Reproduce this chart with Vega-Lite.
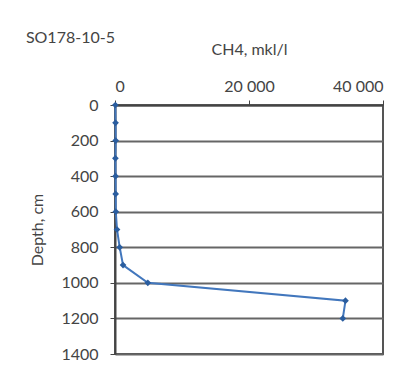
{
  "$schema": "https://vega.github.io/schema/vega-lite/v6.json",
  "autosize": "none",
  "width": 268,
  "height": 249,
  "padding": {"left": 115, "top": 105, "right": 31, "bottom": 25},
  "background": "white",
  "title": {
    "text": "SO178-10-5",
    "anchor": "start",
    "frame": "bounds",
    "font": "Lato",
    "fontSize": 16,
    "fontWeight": "normal",
    "color": "#444",
    "dx": -4,
    "dy": 5,
    "offset": 0
  },
  "data": {
    "values": [
      {"depth": 0, "ch4": 50},
      {"depth": 100, "ch4": 80},
      {"depth": 200, "ch4": 100},
      {"depth": 300, "ch4": 60},
      {"depth": 400, "ch4": 80},
      {"depth": 500, "ch4": 100},
      {"depth": 600, "ch4": 120},
      {"depth": 700, "ch4": 300},
      {"depth": 800, "ch4": 700},
      {"depth": 900, "ch4": 1200},
      {"depth": 1000, "ch4": 4900},
      {"depth": 1100, "ch4": 34400},
      {"depth": 1200, "ch4": 34000}
    ]
  },
  "mark": {"type": "line", "color": "#4277bd", "strokeWidth": 2, "point": {"shape": "diamond", "size": 45, "color": "#2a5d9f", "filled": true}},
  "encoding": {
    "x": {
      "field": "ch4",
      "type": "quantitative",
      "scale": {"domain": [0, 40000], "nice": false},
      "axis": {
        "orient": "top",
        "title": "CH4, mkl/l",
        "values": [0, 20000, 40000],
        "labelExpr": "replace(format(datum.value, ','), ',', ' ')",
        "grid": false,
        "domainColor": "#444",
        "domainWidth": 2,
        "tickColor": "#444",
        "tickSize": 5,
        "labelPadding": 6,
        "titlePadding": 21,
        "labelFont": "Lato",
        "labelFontSize": 16,
        "labelColor": "#444",
        "titleFont": "Lato",
        "titleFontSize": 16,
        "titleFontWeight": "normal",
        "titleColor": "#444"
      }
    },
    "y": {
      "field": "depth",
      "type": "quantitative",
      "scale": {"domain": [0, 1400], "reverse": true, "nice": false},
      "axis": {
        "title": "Depth, cm",
        "values": [0, 200, 400, 600, 800, 1000, 1200, 1400],
        "format": "d",
        "grid": true,
        "gridColor": "#666",
        "gridWidth": 2,
        "domainColor": "#444",
        "domainWidth": 2,
        "tickColor": "#444",
        "tickSize": 5,
        "labelPadding": 12,
        "titlePadding": 15,
        "labelFont": "Lato",
        "labelFontSize": 16,
        "labelColor": "#444",
        "titleFont": "Lato",
        "titleFontSize": 16,
        "titleFontWeight": "normal",
        "titleColor": "#444"
      }
    },
    "order": {"field": "depth", "type": "quantitative"}
  },
  "config": {
    "view": {"stroke": "#555", "strokeWidth": 2}
  }
}
